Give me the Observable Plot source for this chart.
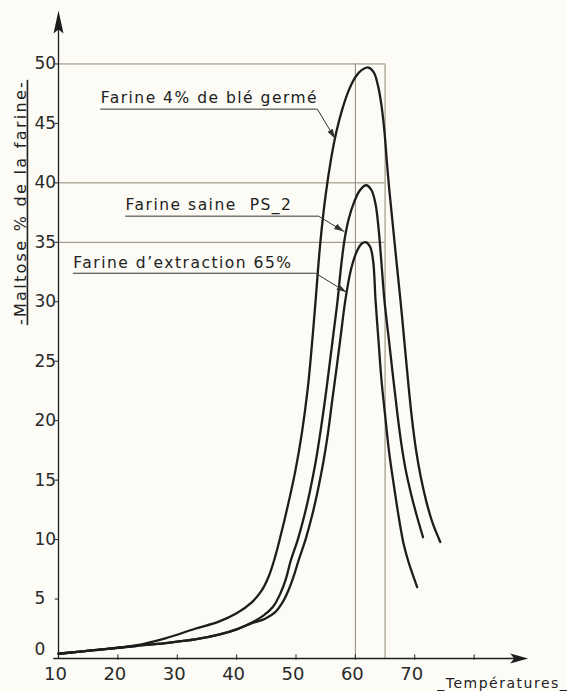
<!DOCTYPE html>
<html><head><meta charset="utf-8">
<script src="https://cdn.jsdelivr.net/npm/d3@7"></script>
<script src="https://cdn.jsdelivr.net/npm/@observablehq/plot@0.6"></script>
<style>
html,body{margin:0;padding:0;background:#fcfbf5;}
#chart svg{display:block;}
</style></head><body><div id="chart"></div>
<script>
// ---- data (temperature °C, maltose % de la farine) ----
const seriesNames = ["Farine 4% de blé germé", "Farine saine  PS_2", "Farine d’extraction 65%"];

const tempsGerme   = [10,16,23,28,33,37,40,42.5,44.2,45.4,46.4,47.4,48.6,49.9,51.0,52.0,52.7,53.3,54.1,55.0,55.9,56.8,57.8,58.9,60.0,61.1,62.2,63.1,63.8,64.4,64.9,65.3,65.7,66.2,66.9,67.6,68.3,68.9,69.5,70.2,71.0,71.9,73.0,74.3];
const maltoseGerme = [0.4,0.7,1.1,1.7,2.5,3.1,3.8,4.7,5.7,6.9,8.4,10.3,12.8,15.8,19.0,22.8,26.5,30.1,35.0,39.0,42.0,44.3,46.2,47.8,48.9,49.5,49.7,49.3,48.2,46.5,44.3,41.8,39.5,37.0,33.5,30.1,26.4,23.2,20.3,17.6,15.3,13.3,11.4,9.8];

const tempsSaine   = [10,16,23,28,33,37,40,42.5,44.5,46.2,47.4,48.3,49.1,50.3,51.4,52.4,53.3,54.1,54.9,55.6,56.3,57.0,57.6,58.2,58.9,59.8,60.8,61.8,62.7,63.4,63.9,64.4,64.9,65.6,66.3,67.0,67.7,68.5,69.4,70.4,71.4];
const maltoseSaine = [0.4,0.7,1.05,1.3,1.6,2.0,2.45,3.0,3.6,4.4,5.5,6.7,8.2,10.0,12.0,14.2,16.5,19.0,21.8,24.5,27.3,30.1,33.0,35.3,37.0,38.4,39.4,39.8,39.4,38.2,36.2,33.2,30.1,27.0,23.9,20.9,18.2,15.8,13.8,11.9,10.2];

const tempsExtraction   = [10,16,23,28,33,37,40,42.5,44.8,46.5,47.7,48.7,49.6,50.4,51.6,52.7,53.7,54.6,55.4,56.1,56.8,57.5,58.3,59.3,60.3,61.1,61.8,62.5,63.0,63.4,63.9,64.4,65.0,65.6,66.2,66.8,67.4,68.1,68.9,69.7,70.4];
const maltoseExtraction = [0.4,0.7,1.05,1.3,1.6,2.0,2.45,2.95,3.35,3.9,4.7,5.7,6.9,8.2,10.0,12.0,14.2,16.5,19.0,21.7,24.3,27.0,30.1,32.8,34.3,34.9,35.0,34.6,33.4,30.1,26.7,23.4,20.5,17.7,15.5,13.5,11.6,9.7,8.2,7.0,6.0];

// reference lines
const refLevels = [50, 40, 35];
const refTemps = [60, 65];

// ticks
const xTickLabels = [10, 20, 30, 40, 50, 60, 70];
const xTickMarks = [20, 30, 40, 50, 60, 70, 80];
const yTickLabels = [0, 5, 10, 15, 20, 25, 30, 35, 40, 45, 50];

// annotations (data units)
const annotTextT   = [17.1, 21.3, 12.5];
const annotTextV   = [47.1, 38.1, 33.3];
const annotLineV   = [46.2, 37.2, 32.4];
const annotLineEnd = [53.6, 53.8, 53.3];
const annotTipT    = [56.6, 58.1, 58.5];
const annotTipV    = [43.7, 35.9, 30.8];

const xTitle = "_Températures_";
const yTitle = "-Maltose % de la farine-";

// ---- build tables ----
const curveRows = [];
[[tempsGerme, maltoseGerme], [tempsSaine, maltoseSaine], [tempsExtraction, maltoseExtraction]].forEach(([ts, vs], i) => {
  ts.forEach((t, j) => curveRows.push({serie: seriesNames[i], t, v: vs[j]}));
});
const leaderRows = [];
seriesNames.forEach((s, i) => {
  leaderRows.push({k: i, t: annotTextT[i], v: annotLineV[i]});
  leaderRows.push({k: i, t: annotLineEnd[i], v: annotLineV[i]});
  leaderRows.push({k: i, t: annotTipT[i], v: annotTipV[i]});
});
const annotRows = seriesNames.map((s, i) => ({label: s, t: annotTextT[i], v: annotTextV[i]}));

const ns = "http://www.w3.org/2000/svg";
function arrowMarker(color) {
  const m = document.createElementNS(ns, "marker");
  m.setAttribute("viewBox", "-10 -4 10 8");
  m.setAttribute("markerWidth", 10);
  m.setAttribute("markerHeight", 8);
  m.setAttribute("refX", 0);
  m.setAttribute("refY", 0);
  m.setAttribute("orient", "auto");
  m.setAttribute("markerUnits", "userSpaceOnUse");
  const p = document.createElementNS(ns, "path");
  p.setAttribute("d", "M0,0L-10,-3L-10,3Z");
  p.setAttribute("fill", color);
  p.setAttribute("stroke", "none");
  m.appendChild(p);
  return m;
}
const arrowUp = {draw(ctx) { ctx.moveTo(0, 0); ctx.lineTo(5, 23); ctx.lineTo(0, 19); ctx.lineTo(-5, 23); ctx.closePath(); }};
const arrowRight = {draw(ctx) { ctx.moveTo(0, 0); ctx.lineTo(-18, -5); ctx.lineTo(-14, 0); ctx.lineTo(-18, 5); ctx.closePath(); }};

const ink = "#1d1d1d";
const thin = "#8f8774";
const font = "DejaVu Sans";

const chart = Plot.plot({
  width: 567,
  height: 691,
  marginLeft: 58,
  marginRight: 34,
  marginTop: 4,
  marginBottom: 33,
  style: {background: "#fcfbf5", fontFamily: font, color: "#2a2a2a"},
  x: {domain: [10, 90], axis: null},
  y: {domain: [0, 55], axis: null},
  marks: [
    Plot.ruleY(refLevels, {x1: 10, x2: 65, stroke: thin, strokeWidth: 1}),
    Plot.ruleX(refTemps, {y1: 0, y2: 50, stroke: thin, strokeWidth: 1}),
    // axes
    Plot.ruleY([0], {x1: 9.2, x2: 87.5, stroke: ink, strokeWidth: 1.3}),
    Plot.ruleX([10], {y1: 0, y2: 53.5, stroke: ink, strokeWidth: 1.3}),
    Plot.dot([{t: 89.1, v: 0}], {x: "t", y: "v", symbol: arrowRight, fill: ink, stroke: "none"}),
    Plot.dot([{t: 10, v: 54.5}], {x: "t", y: "v", symbol: arrowUp, fill: ink, stroke: "none"}),
    Plot.ruleX(xTickMarks, {y1: -0.15, y2: 0.3, stroke: ink, strokeWidth: 1}),
    Plot.ruleY(yTickLabels.filter(d => d > 0), {x1: 9.45, x2: 10, stroke: ink, strokeWidth: 1}),
    Plot.text(xTickLabels, {x: d => d, y: -1.35, text: d => String(d), dx: -3, fontSize: 18, fill: "#2a2a2a"}),
    Plot.text(yTickLabels, {x: 5.95, y: d => d === 0 ? 0.75 : d, text: d => String(d), textAnchor: "start", fontSize: 17, fill: "#2a2a2a"}),
    // curves
    Plot.line(curveRows, {x: "t", y: "v", z: "serie", stroke: ink, strokeWidth: 2.3, curve: "catmull-rom"}),
    // annotations
    Plot.line(leaderRows, {x: "t", y: "v", z: "k", stroke: "#333", strokeWidth: 1, markerEnd: arrowMarker}),
    Plot.text(annotRows, {x: "t", y: "v", text: "label", textAnchor: "start", fontSize: 15.5, fill: "#222"}),
    Plot.text([xTitle], {x: 73.8, y: -2.1, text: d => d, textAnchor: "start", fontSize: 14, fill: "#222"}),
    Plot.text([yTitle], {x: 3.6, y: 38.35, text: d => d, rotate: -90, fontSize: 16, fill: "#222"})
  ]
});
document.getElementById("chart").appendChild(chart);
chart.querySelectorAll("text").forEach(t => {
  const s = t.textContent;
  if (seriesNames.includes(s)) { t.style.letterSpacing = "1.5px"; t.style.whiteSpace = "pre"; }
  else if (s === xTitle) t.style.letterSpacing = "1.5px";
  else if (s === yTitle) { t.style.letterSpacing = "2.3px"; t.style.textDecoration = "underline"; }
});
</script></body></html>
